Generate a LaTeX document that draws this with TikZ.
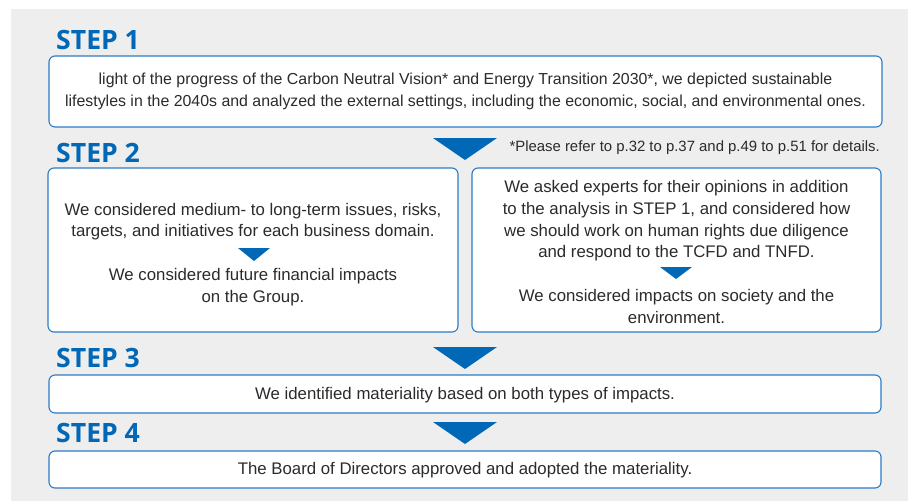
\documentclass[tikz,border=0pt]{standalone}
\usepackage{fontspec}
\setmainfont{Liberation Sans}
\newfontfamily\stepfont{Open Sans}
\definecolor{bgc}{HTML}{EEEEEE}
\definecolor{stepblue}{HTML}{0068B7}
\definecolor{boxblue}{HTML}{2A7BC6}
\definecolor{txt}{HTML}{2B2B2B}
\begin{document}
\begin{tikzpicture}[x=1pt,y=-1pt,
  stepbox/.style={draw=boxblue,line width=1.1pt,fill=white,rounded corners=6pt,inner sep=0pt},
  steplabel/.style={anchor=west,text=stepblue,font=\stepfont\bfseries\fontsize{26.6}{30}\selectfont,inner sep=0pt},
  body/.style={text=txt,font=\fontsize{16.8}{21.6}\selectfont,align=center,inner sep=0pt},
  tri/.style={fill=stepblue}]
\useasboundingbox (0,0) rectangle (908,501);
\fill[bgc] (11,9) rectangle (908,501);
% STEP 1
\node[steplabel] (s1) at (56,40) {STEP 1};
\node[stepbox,minimum width=833pt,minimum height=71pt] (b1) at (465.5,91.5) {};
\node[body,font=\fontsize{15.9}{22.5}\selectfont] (t1) at (465.5,91.5) {light of the progress of the Carbon Neutral Vision* and Energy Transition 2030*, we depicted sustainable\\lifestyles in the 2040s and analyzed the external settings, including the economic, social, and environmental ones.};
% arrow 1
\fill[tri] (433,138) -- (497,138) -- (465,160) -- cycle;
\node[anchor=east,text=txt,font=\fontsize{14.9}{16}\selectfont,inner sep=0pt] (note) at (880,148) {*Please refer to p.32 to p.37 and p.49 to p.51 for details.};
% STEP 2
\node[steplabel] (s2) at (56,153) {STEP 2};
\node[stepbox,minimum width=410pt,minimum height=164pt] (b2l) at (253,250) {};
\node[stepbox,minimum width=409pt,minimum height=164pt] (b2r) at (676.5,250) {};
\node[body] (t2la) at (253,221.5) {We considered medium- to long-term issues, risks,\\targets, and initiatives for each business domain.};
\fill[tri] (238,248) -- (270,248) -- (254,261) -- cycle;
\node[body] (t2lb) at (253,287) {We considered future financial impacts\\on the Group.};
\node[body] (t2ra) at (676.5,221) {We asked experts for their opinions in addition\\to the analysis in STEP 1, and considered how\\we should work on human rights due diligence\\and respond to the TCFD and TNFD.};
\fill[tri] (660,267) -- (692,267) -- (676,279) -- cycle;
\node[body] (t2rb) at (676.5,306.5) {We considered impacts on society and the\\environment.};
% STEP 3
\node[steplabel] (s3) at (56,358) {STEP 3};
\fill[tri] (433,347) -- (497,347) -- (465,369) -- cycle;
\node[stepbox,minimum width=832pt,minimum height=38pt] (b3) at (465,394) {};
\node[body] (t3) at (465,395) {We identified materiality based on both types of impacts.};
% STEP 4
\node[steplabel] (s4) at (56,433) {STEP 4};
\fill[tri] (433,422) -- (497,422) -- (465,444) -- cycle;
\node[stepbox,minimum width=832pt,minimum height=37pt] (b4) at (465,469.5) {};
\node[body] (t4) at (465,470.5) {The Board of Directors approved and adopted the materiality.};
\end{tikzpicture}
\end{document}
